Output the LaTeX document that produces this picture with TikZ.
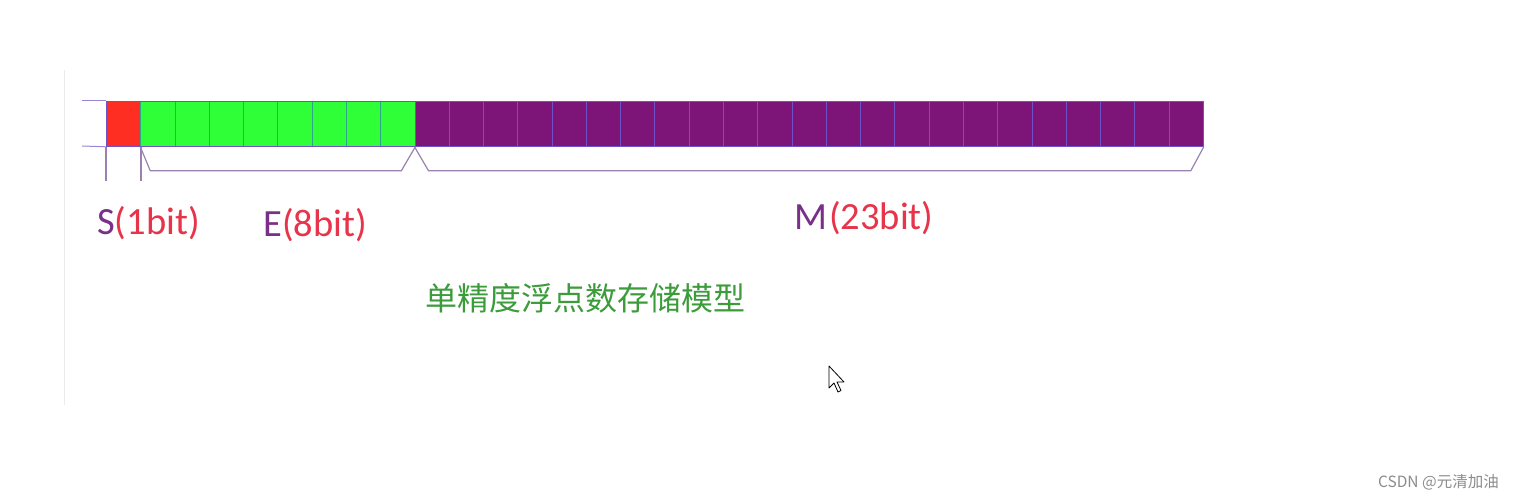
\documentclass[tikz,border=0pt]{standalone}
\usepackage{fontspec}
\usetikzlibrary{calc}
\setmainfont{Carlito}
\newfontfamily\cjk{Noto Sans CJK SC}
\definecolor{sred}{HTML}{FF2E22}
\definecolor{egreen}{HTML}{2EFF36}
\definecolor{mpurple}{HTML}{7D1478}
\definecolor{cellline}{HTML}{6F52C8}
\definecolor{gline}{HTML}{2BA88A}
\definecolor{brack}{HTML}{9A82B0}
\definecolor{tpurple}{HTML}{7A2F88}
\definecolor{tred}{HTML}{E8344A}
\definecolor{tgreen}{HTML}{3C9C3C}
\tikzset{
  cell/.style={draw=cellline, line width=0.8pt, minimum width=34.28pt, minimum height=45pt, inner sep=0pt, anchor=north west},
  brk/.style={draw=brack, line width=1.2pt},
  lbl/.style={font=\fontsize{38.5}{42}\selectfont, inner sep=0pt, anchor=west},
}
\begin{document}
\begin{tikzpicture}[x=1pt,y=-1pt]
\useasboundingbox (0,0) rectangle (1513,500);
\fill[white] (0,0) rectangle (1513,500);
\draw[black!8, line width=1pt] (64,70) -- (64,405);
% cells
\foreach \i in {1,...,32}{
  \pgfmathsetmacro{\xx}{106+(\i-1)*34.28}
  \ifnum\i=1
    \node[cell, fill=sred] (c\i) at (\xx,101) {};
  \else\ifnum\i<10
    \node[cell, fill=egreen, draw=gline] (c\i) at (\xx,101) {};
  \else
    \node[cell, fill=mpurple] (c\i) at (\xx,101) {};
  \fi\fi
}
\draw[cellline, line width=0.8pt] (c1.north west) rectangle (c32.south east);
% left extensions
\coordinate (lt) at (82,101);
\coordinate (lb) at (82,146);
\draw[cellline!70, line width=1pt] (lt) -- (c1.north west);
\draw[cellline!70, line width=1pt] (lb) -- (c1.south west);
% S ticks
\draw[brk] (c1.south west) -- ++(0,34);
\draw[brk] (c1.south east) -- ++(0,34);
% E bracket
\draw[brk] (c2.south west) -- ($(c2.south west)+(10,24)$) -- ($(c9.south east)+(-14,24)$) -- (c9.south east);
% M bracket
\draw[brk] (c10.south west) -- ($(c10.south west)+(14,24)$) -- ($(c32.south east)+(-13,24)$) -- (c32.south east);
% labels
\node[lbl] (sl) at (97,223) {\textcolor{tpurple}{S}\textcolor{tred}{(1bit)}};
\node[lbl] (el) at (263,225) {\textcolor{tpurple}{E}\textcolor{tred}{(8bit)}};
\node[lbl] (ml) at (794,218) {\textcolor{tpurple}{M}\kern2pt\textcolor{tred}{(23bit)}};
\node[inner sep=0pt, anchor=west, text=tgreen, font=\cjk\fontsize{32}{35}\selectfont] (title) at (425,298) {单精度浮点数存储模型};
% cursor
\draw[black, fill=white, line width=0.8pt, line join=round]
  (829,366) -- (829,388) -- (834,383) -- (838,392) -- (841,390.5) -- (837,382) -- (844,382) -- cycle;
% watermark
\node[inner sep=0pt, anchor=east, text=black!45, font=\cjk\fontsize{15.5}{17}\selectfont] (wm) at (1499,482) {CSDN @元清加油};
\end{tikzpicture}
\end{document}
